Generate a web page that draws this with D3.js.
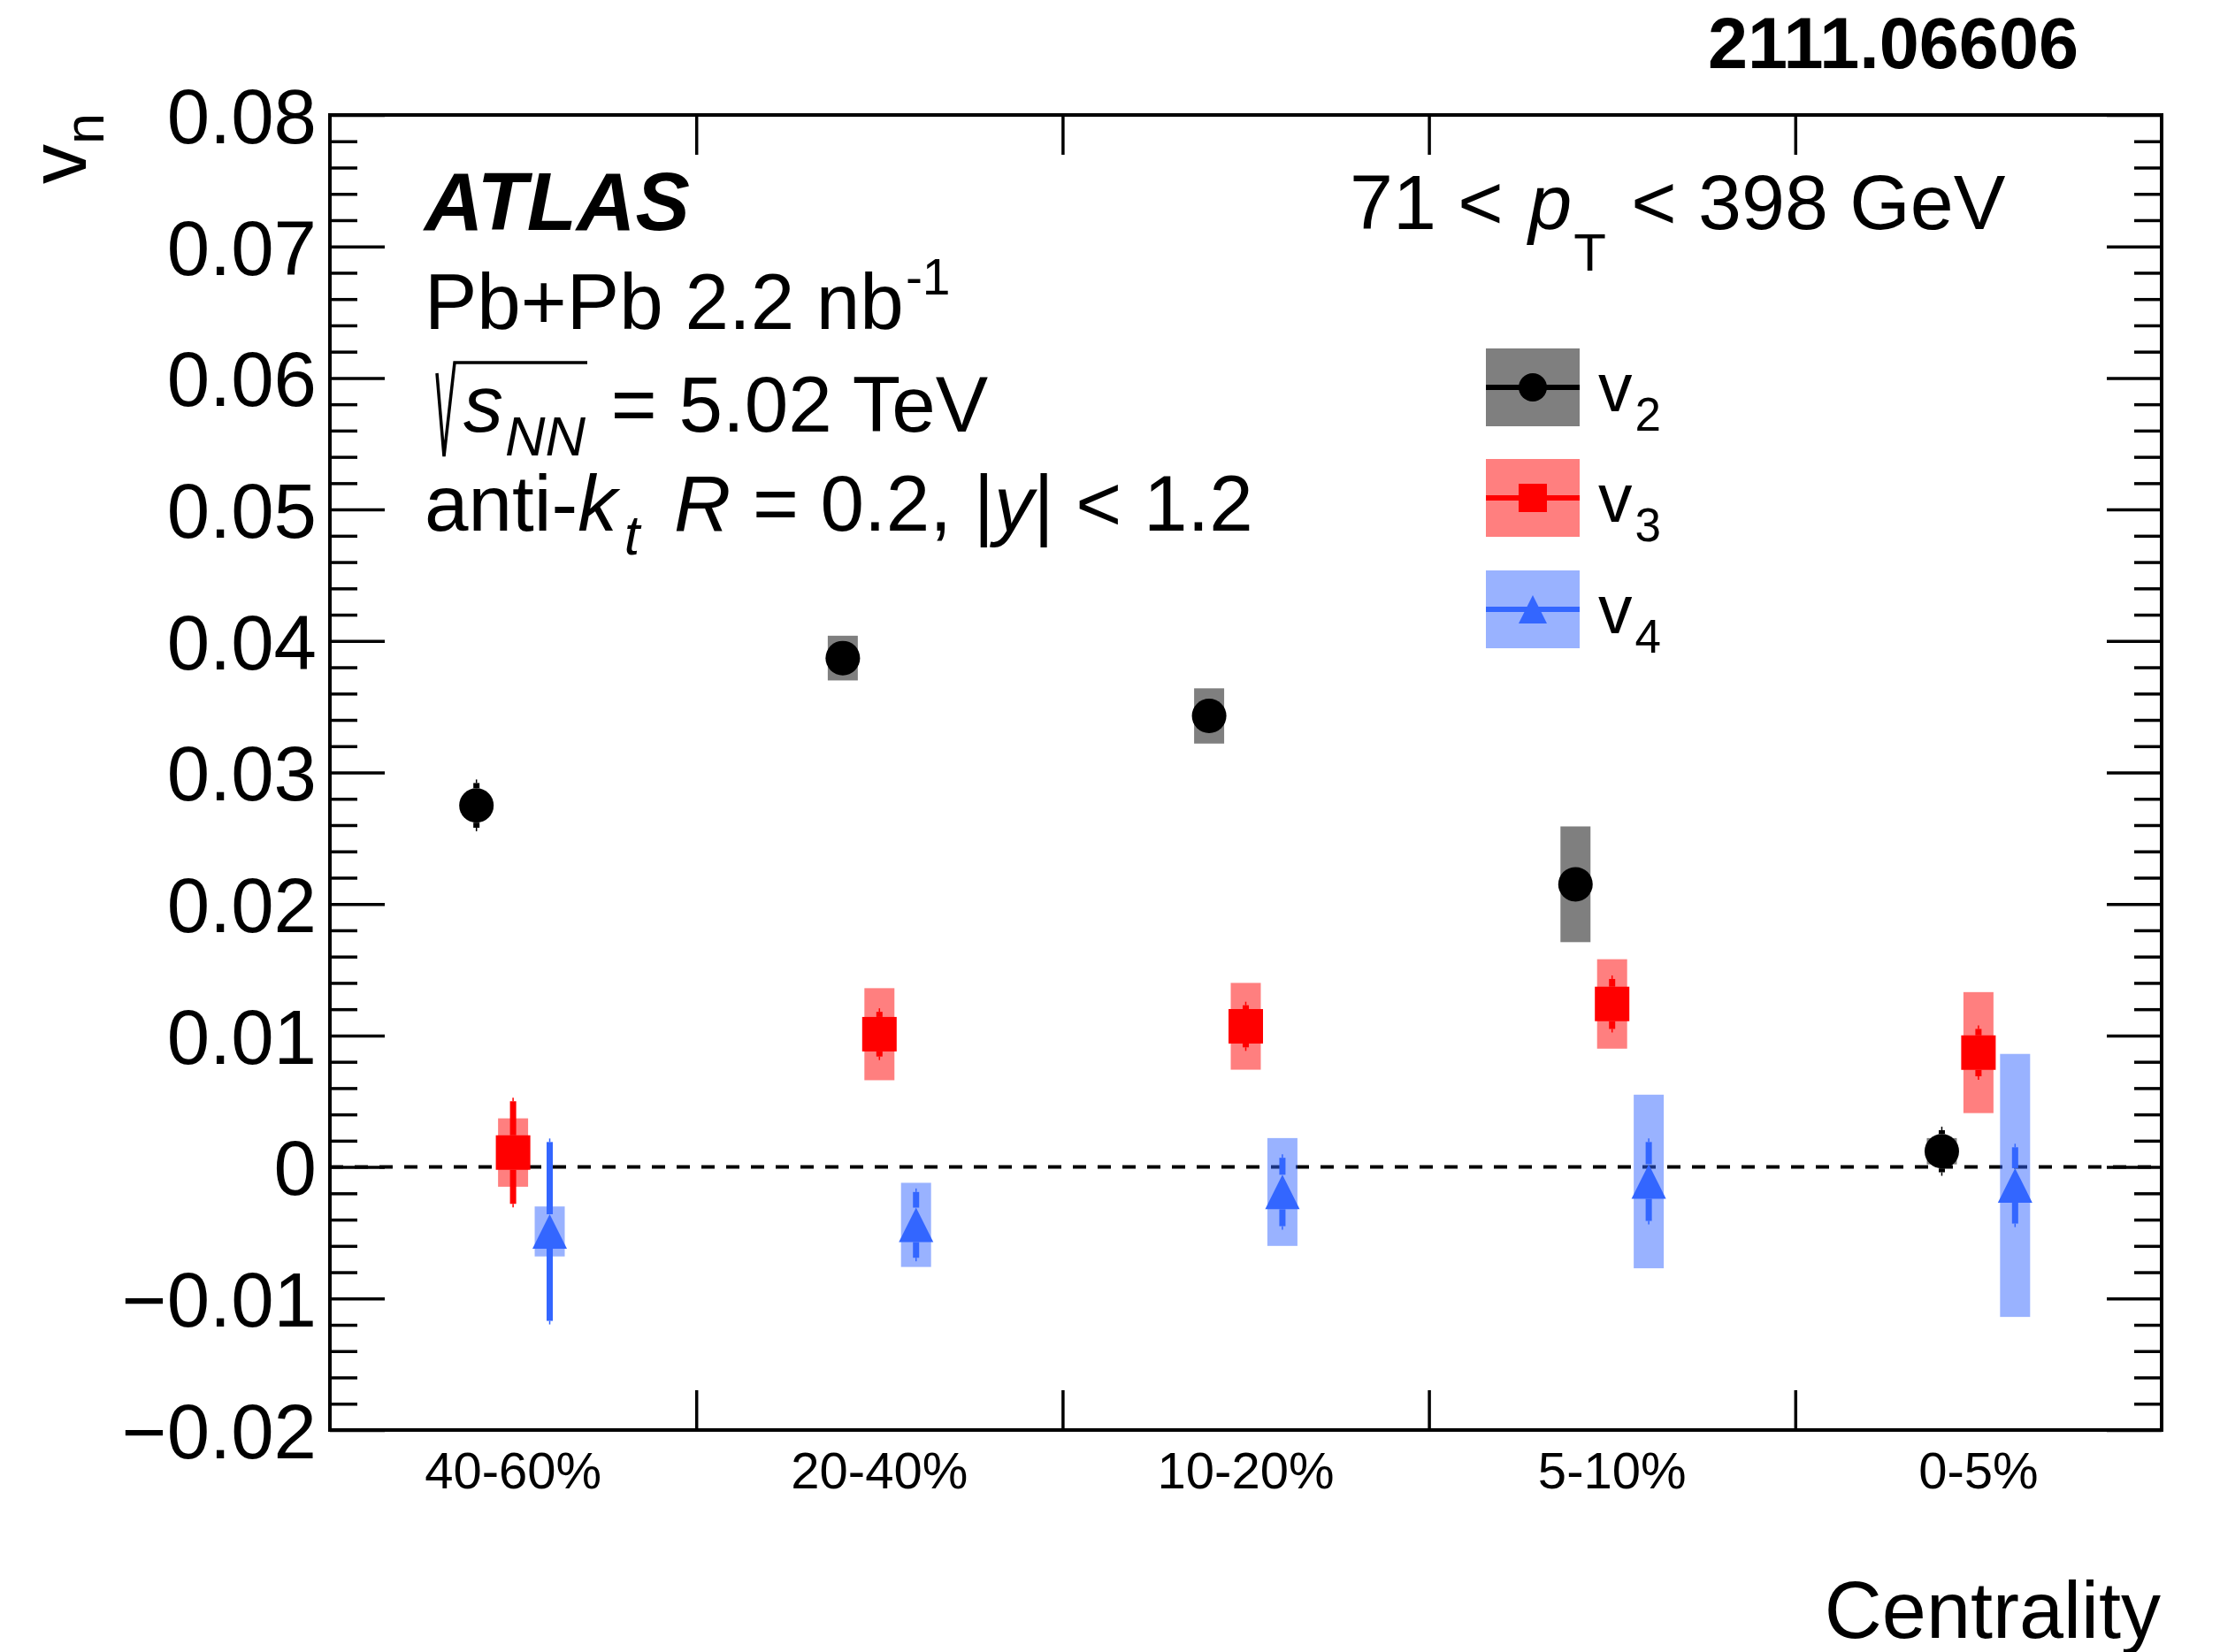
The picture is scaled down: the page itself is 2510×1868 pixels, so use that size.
<!DOCTYPE html>
<html><head><meta charset="utf-8">
<script src="https://cdn.jsdelivr.net/npm/d3@7"></script>
<style>
body{margin:0;background:#fff}
svg{display:block}
text{font-family:"Liberation Sans",Arial,Helvetica,sans-serif;white-space:pre;fill:#000}
</style>
</head><body>
<svg id="c" width="2510" height="1868"></svg>
<script>
// ---------------- data ----------------
const categories = ["40-60%", "20-40%", "10-20%", "5-10%", "0-5%"];
const v2     = [0.0275, 0.0387, 0.0343, 0.0215, 0.0012];
const v2Stat = [0.0017, 0.0008, 0.0008, 0.0008, 0.0016];
const v2Syst = [0.0005, 0.0017, 0.0021, 0.0044, 0.0010];
const v3     = [0.0011, 0.0101, 0.0107, 0.0124, 0.0087];
const v3Stat = [0.0039, 0.0017, 0.0016, 0.0019, 0.0018];
const v3Syst = [0.0026, 0.0035, 0.0033, 0.0034, 0.0046];
const v4     = [-0.0049, -0.0044, -0.0019, -0.0011, -0.0014];
const v4Stat = [0.0068, 0.0025, 0.0026, 0.0030, 0.0029];
const v4Syst = [0.0019, 0.0032, 0.0041, 0.0066, 0.0100];
const yTicks = [-0.02, -0.01, 0, 0.01, 0.02, 0.03, 0.04, 0.05, 0.06, 0.07, 0.08];
const yTickLabels = ["\u22120.02", "\u22120.01", "0", "0.01", "0.02", "0.03", "0.04", "0.05", "0.06", "0.07", "0.08"];
const seriesNames = ["v2", "v3", "v4"];
const seriesSub = ["2", "3", "4"];

// ---------------- layout ----------------
const L = 373, R = 2444, T = 130, B = 1617;
const svg = d3.select("#c");
const xBin = d3.scaleLinear().domain([0, categories.length]).range([L, R]);
const xBand = d3.scaleBand().domain(categories).range([L, R]).padding(0);
const y = d3.scaleLinear().domain([-0.02, 0.08]).range([B, T]);

const series = [
  {name: "v2", vals: v2, stat: v2Stat, syst: v2Syst, off: -0.1, color: "#000000", box: "#000000", marker: "circle"},
  {name: "v3", vals: v3, stat: v3Stat, syst: v3Syst, off: 0.0, color: "#ff0000", box: "#ff0000", marker: "square"},
  {name: "v4", vals: v4, stat: v4Stat, syst: v4Syst, off: 0.1, color: "#3366ff", box: "#3366ff", marker: "triangle"}
];

// zero dashed line
svg.append("line")
  .attr("x1", xBin(0)).attr("x2", xBin(categories.length))
  .attr("y1", y(0)).attr("y2", y(0))
  .attr("stroke", "#000").attr("stroke-width", 4).attr("stroke-dasharray", "15 13");

// systematic boxes
const boxHalf = 0.041;
series.forEach(s => {
  svg.append("g").selectAll("rect").data(s.vals).join("rect")
    .attr("x", (d, i) => xBin(i + 0.5 + s.off - boxHalf))
    .attr("width", xBin(2 * boxHalf) - xBin(0))
    .attr("y", (d, i) => y(d + s.syst[i]))
    .attr("height", (d, i) => y(d - s.syst[i]) - y(d + s.syst[i]))
    .attr("fill", s.box).attr("fill-opacity", 0.5);
});

// stat error bars (with gap around marker)
const mHalf = 19.5;
series.forEach(s => {
  const g = svg.append("g");
  s.vals.forEach((d, i) => {
    const cx = xBin(i + 0.5 + s.off);
    const yc = y(d), yt = y(d + s.stat[i]), yb = y(d - s.stat[i]);
    if (yc - yt > mHalf) {
      g.append("rect").attr("x", cx - 3.5).attr("width", 7).attr("y", yt).attr("height", yc - mHalf - yt).attr("fill", s.color);
      g.append("line").attr("x1", cx).attr("x2", cx).attr("y1", yt - 4).attr("y2", yt).attr("stroke", s.color).attr("stroke-width", 1.5);
    }
    if (yb - yc > mHalf) {
      g.append("rect").attr("x", cx - 3.5).attr("width", 7).attr("y", yc + mHalf).attr("height", yb - yc - mHalf).attr("fill", s.color);
      g.append("line").attr("x1", cx).attr("x2", cx).attr("y1", yb).attr("y2", yb + 4).attr("stroke", s.color).attr("stroke-width", 1.5);
    }
  });
});

// markers
function drawMarker(g, type, cx, cy, r, color) {
  if (type === "circle") g.append("circle").attr("cx", cx).attr("cy", cy).attr("r", r).attr("fill", color);
  else if (type === "square") g.append("rect").attr("x", cx - r).attr("y", cy - r).attr("width", 2 * r).attr("height", 2 * r).attr("fill", color);
  else g.append("path").attr("d", `M${cx},${cy - r}L${cx - r},${cy + r}L${cx + r},${cy + r}Z`).attr("fill", color);
}
series.forEach(s => {
  const g = svg.append("g");
  s.vals.forEach((d, i) => drawMarker(g, s.marker, xBin(i + 0.5 + s.off), y(d), mHalf, s.color));
});

// ---------------- axes ----------------
const minorTicks = d3.range(-0.02, 0.0801, 0.002).map(v => +v.toFixed(3)).filter(v => !yTicks.some(t => Math.abs(t - v) < 1e-9));
function styleAxis(g) { g.select(".domain").remove(); g.selectAll("line").attr("stroke", "#000").attr("stroke-width", 3.5); }

// left
svg.append("g").attr("transform", `translate(${L},0)`)
  .call(d3.axisLeft(y).tickValues(yTicks).tickSizeInner(-62).tickSizeOuter(0).tickPadding(15)
    .tickFormat((d, i) => yTickLabels[i]))
  .call(styleAxis)
  .call(g => g.selectAll("text").attr("font-size", 87).attr("font-family", '"Liberation Sans",Arial,sans-serif').attr("dy", "0.36em"));
svg.append("g").attr("transform", `translate(${L},0)`)
  .call(d3.axisLeft(y).tickValues(minorTicks).tickSizeInner(-31).tickSizeOuter(0).tickFormat(""))
  .call(styleAxis);
// right
svg.append("g").attr("transform", `translate(${R},0)`)
  .call(d3.axisRight(y).tickValues(yTicks).tickSizeInner(-62).tickSizeOuter(0).tickFormat(""))
  .call(styleAxis);
svg.append("g").attr("transform", `translate(${R},0)`)
  .call(d3.axisRight(y).tickValues(minorTicks).tickSizeInner(-31).tickSizeOuter(0).tickFormat(""))
  .call(styleAxis);
// bottom / top bin-edge ticks
const edges = d3.range(1, categories.length);
svg.append("g").attr("transform", `translate(0,${B})`)
  .call(d3.axisBottom(xBin).tickValues(edges).tickSizeInner(-45).tickSizeOuter(0).tickFormat(""))
  .call(styleAxis);
svg.append("g").attr("transform", `translate(0,${T})`)
  .call(d3.axisTop(xBin).tickValues(edges).tickSizeInner(-45).tickSizeOuter(0).tickFormat(""))
  .call(styleAxis);
// category labels
svg.append("g").attr("transform", `translate(0,${B})`)
  .call(d3.axisBottom(xBand).tickSize(0).tickPadding(25))
  .call(g => g.select(".domain").remove())
  .call(g => g.selectAll("text").attr("font-size", 58).attr("font-family", '"Liberation Sans",Arial,sans-serif'));

// frame
svg.append("rect").attr("x", L).attr("y", T).attr("width", R - L).attr("height", B - T)
  .attr("fill", "none").attr("stroke", "#000").attr("stroke-width", 4);

// ---------------- text helpers ----------------
function rich(x, yy, parts, anchor, transform) {
  const t = svg.append("text").attr("x", x).attr("y", yy).attr("text-anchor", anchor || "start");
  if (transform) t.attr("transform", transform);
  let cur = 0;
  parts.forEach(p => {
    const off = p.off || 0;
    const ts = t.append("tspan").text(p.t).attr("font-size", p.size).attr("dy", off - cur);
    if (p.dx) ts.attr("dx", p.dx);
    if (p.it) ts.attr("font-style", "italic");
    if (p.b) ts.attr("font-weight", "bold");
    cur = off;
  });
  return t;
}

// titles
rich(2350, 77, [{t: "2111.06606", size: 81, b: true}], "end");
rich(0, 0, [{t: "v", size: 90}, {t: "n", size: 63, off: 20}], "end", "translate(97,128) rotate(-90)");
rich(2443, 1852, [{t: "Centrality", size: 90}], "end");

// ATLAS block
rich(480, 260, [{t: "ATLAS", size: 92, b: true, it: true}]);
rich(480, 372, [{t: "Pb+Pb 2.2 nb", size: 89}, {t: "-1", size: 57, off: -39, dx: 2}]);
svg.append("path").attr("d", "M494,422 L502,516 L514,410 L664,410")
  .attr("fill", "none").attr("stroke", "#000").attr("stroke-width", 3.5);
rich(524, 488, [{t: "s", size: 90, it: true}, {t: "NN", size: 63, it: true, off: 27, dx: 2}, {t: " = 5.02 TeV", size: 89, off: 0, dx: 4}]);
rich(480, 600, [{t: "anti-", size: 89}, {t: "k", size: 89, it: true}, {t: "t", size: 63, it: true, off: 27, dx: 8},
  {t: " ", size: 89}, {t: "R", size: 89, it: true, off: 0, dx: 14}, {t: " = 0.2, |", size: 89}, {t: "y", size: 89, it: true}, {t: "| < 1.2", size: 89}]);

// pT range
rich(1526, 259, [{t: "71 < ", size: 88}, {t: "p", size: 88, it: true, dx: 4}, {t: "T", size: 60, off: 47, dx: 2},
  {t: " < 398 GeV", size: 88, off: 0, dx: 4}]);

// ---------------- legend ----------------
const legX = 1680, legW = 106, legH = 88;
const legY = [394, 519, 645];
series.forEach((s, k) => {
  const g = svg.append("g");
  const y0 = legY[k], cy = y0 + legH / 2, cx = legX + legW / 2;
  g.append("rect").attr("x", legX).attr("y", y0).attr("width", legW).attr("height", legH)
    .attr("fill", s.box).attr("fill-opacity", 0.5);
  g.append("line").attr("x1", legX).attr("x2", legX + legW).attr("y1", cy).attr("y2", cy)
    .attr("stroke", s.color).attr("stroke-width", 6);
  drawMarker(g, s.marker, cx, cy, 16, s.color);
  rich(1807, cy + 27, [{t: "v", size: 77}, {t: seriesSub[k], size: 53, off: 22, dx: 3}]);
});
</script>
</body></html>
